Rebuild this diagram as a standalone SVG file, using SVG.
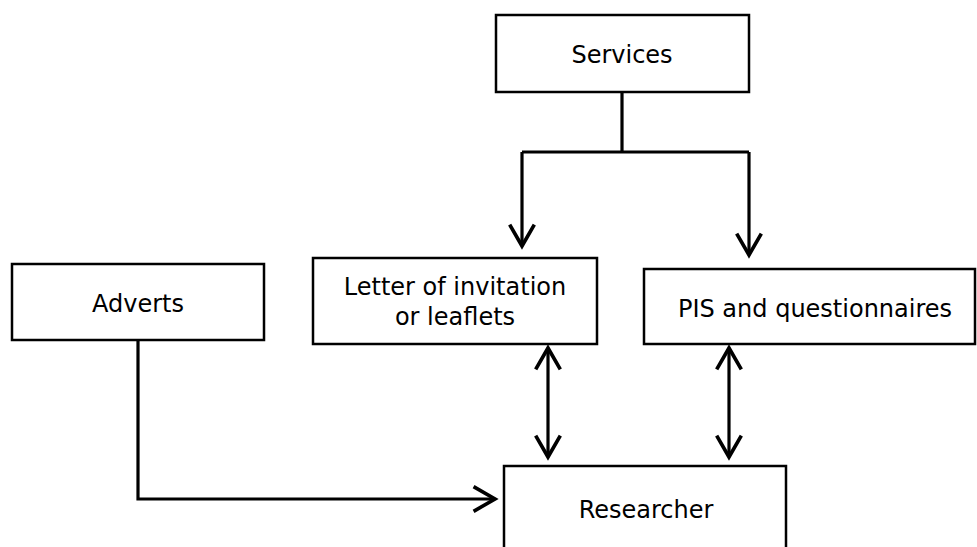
<svg xmlns="http://www.w3.org/2000/svg" width="977" height="547" viewBox="0 0 977 547">
<style>
.box{fill:#fff;stroke:#000;stroke-width:2.5}
.lbl{font-family:"DejaVu Sans",Verdana,sans-serif;font-size:24px;fill:#000;text-anchor:middle}
.con{fill:none;stroke:#000;stroke-width:3.2}
</style>
<defs>
<marker id="arr" markerUnits="userSpaceOnUse" markerWidth="30" markerHeight="30" viewBox="-24 -14 28 28" refX="0" refY="0" orient="auto-start-reverse">
<path d="M-20,-11.5 L0,0 L-20,11.5" fill="none" stroke="#000" stroke-width="3.4"/>
</marker>
</defs>
<rect width="977" height="547" fill="#fff"/>
<g id="connectors">
<path class="con" d="M622,92 V152"/>
<path class="con" d="M522,152 H749"/>
<path class="con" d="M522,152 V246" marker-end="url(#arr)"/>
<path class="con" d="M749,152 V255" marker-end="url(#arr)"/>
<path class="con" d="M548,348 V457" marker-start="url(#arr)" marker-end="url(#arr)"/>
<path class="con" d="M729,348 V457" marker-start="url(#arr)" marker-end="url(#arr)"/>
<path class="con" d="M138,340 V499 H495" marker-end="url(#arr)"/>
</g>
<g id="services">
<rect class="box" x="496" y="15" width="253" height="77"/>
<text class="lbl" x="622" y="63">Services</text>
</g>
<g id="adverts">
<rect class="box" x="12" y="264" width="252" height="76"/>
<text class="lbl" x="138" y="312">Adverts</text>
</g>
<g id="letter">
<rect class="box" x="313" y="258" width="284" height="86"/>
<text class="lbl" x="455" y="295">Letter of invitation</text>
<text class="lbl" x="455" y="325">or leaflets</text>
</g>
<g id="pis">
<rect class="box" x="644" y="269" width="331" height="75"/>
<text class="lbl" x="815" y="317">PIS and questionnaires</text>
</g>
<g id="researcher">
<rect class="box" x="504" y="466" width="282" height="100"/>
<text class="lbl" x="646" y="518">Researcher</text>
</g>
</svg>
